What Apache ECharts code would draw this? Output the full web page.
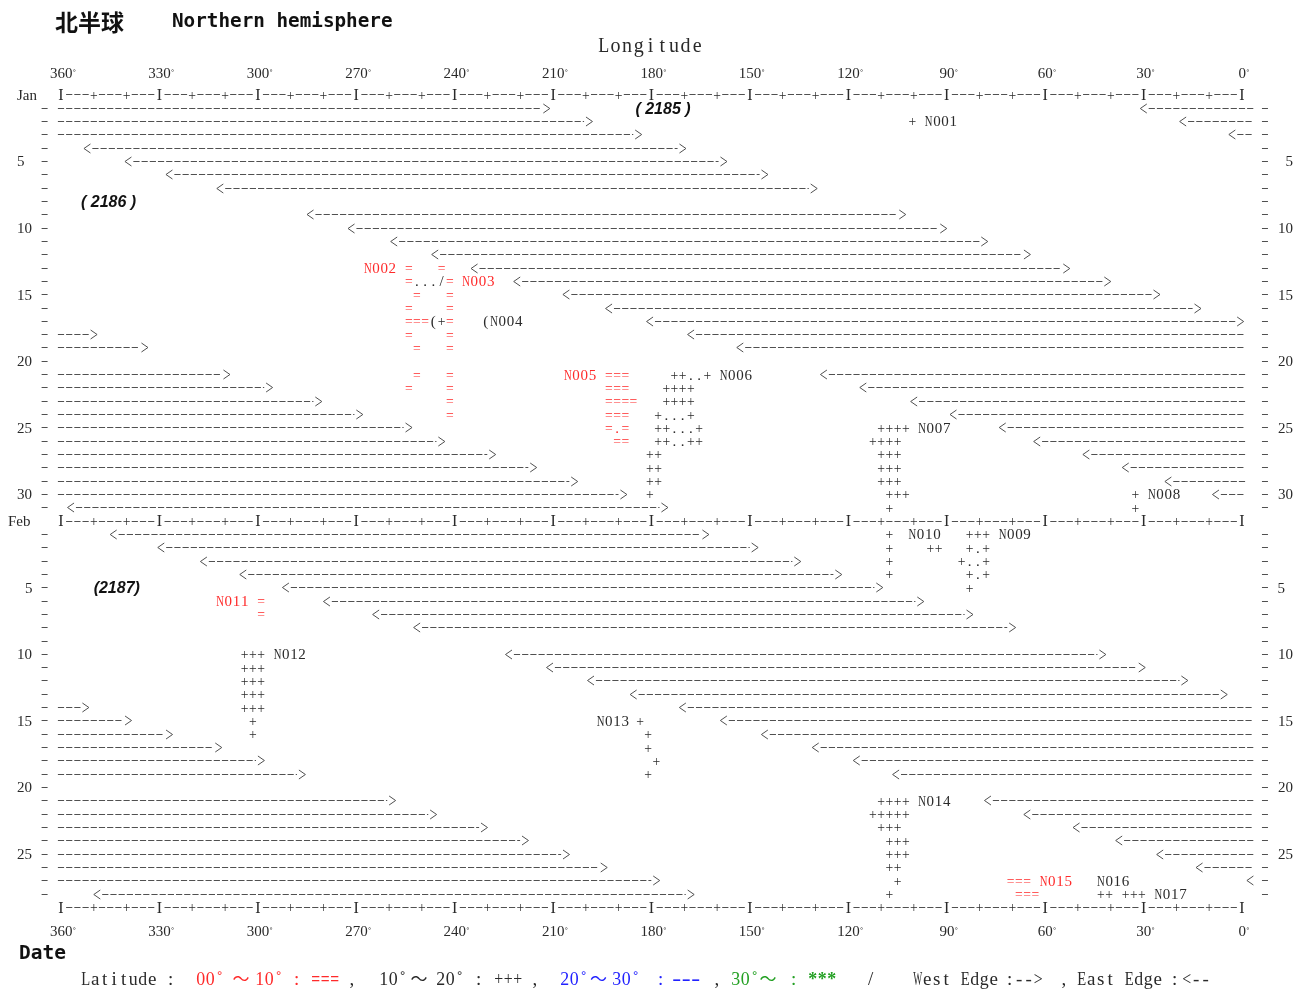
<!DOCTYPE html>
<html>
<head>
<meta charset="utf-8">
<script src="https://cdn.jsdelivr.net/npm/echarts@6/dist/echarts.min.js"></script>
<style>
  html, body { margin: 0; padding: 0; background: #fff; }
  #chart { width: 1303px; height: 990px; }
</style>
</head>
<body>
<div id="chart"></div>
<script>
// ---------------------------------------------------------------
// Data
// ---------------------------------------------------------------
const lonTicks = [360, 330, 300, 270, 240, 210, 180, 150, 120, 90, 60, 30, 0];
const months = ['Jan', 'Feb'];
const monthDays = [31, 28];
const dayTickLabels = [5, 10, 15, 20, 25, 30];

// Daily band edges: [east edge "<" lon, west edge ">" lon, right-end lon when the band wraps past 0°]
// null = no record that day
const janEdges = [
  [30, 212, -2.5], [18, 199, -2.5], [3, 184, -2.5], [352, 170.5], [339.5, 158],
  [327, 145.5], [311.5, 130.5], null, [284, 103.5], [271.5, 91],
  [258.5, 78.5], [246, 65.5], [234, 53.5], [221, 41], [206, 26],
  [193, 13.5], [180.5, 0.5], [168, 350, 0], [153, 334.5, 0], null,
  [127.5, 309.5, 0], [115.5, 296.5, 0], [100, 281.5, 0], [88, 269, 0], [73, 254, 0],
  [62.5, 244, 0], [47.5, 228.5, 0], [35.5, 216, 0], [22.5, 203.5, 0], [8, 188.5, 0],
  [357, 176]
];
const febEdges = [
  [344, 163.5], [329.5, 148.5], [316.5, 135.5], [304.5, 123], [291.5, 110.5],
  [279, 98], [264, 83], [251.5, 70], null, [223.5, 42.5],
  [211, 30.5], [198.5, 17.5], [185.5, 5.5], [170.5, 352.5, -2.5], [158, 339.5, -2.5],
  [145.5, 327, -2.5], [130, 312, -2.5], [117.5, 299, -2.5], [105.5, 286.5, -2.5], null,
  [77.5, 259, -2.5], [65.5, 246.5, -2.5], [50.5, 231, -2.5], [37.5, 218.5, -2.5], [25, 206, -2.5],
  [13, 194.5, -2.5], [-2.5, 178.5, -2.5], [349, 168]
];

// Storm track marks: [month, day, lon of first cell, symbols]
//   "=" 00°~10°N, "+" 10°~20°N, "." path between positions
const trackCells = [
  [0, 2, 100.5, '+'],
  [0, 13, 254, '=   ='],
  [0, 14, 254, '=.../='],
  [0, 15, 251.5, '=   ='],
  [0, 16, 254, '=    ='],
  [0, 17, 254, '===(+='],
  [0, 18, 254, '=    ='],
  [0, 19, 251.5, '=   ='],
  [0, 21, 251.5, '=   ='],
  [0, 22, 254, '=    ='],
  [0, 23, 241.5, '='],
  [0, 24, 241.5, '='],
  [0, 21, 193, '==='],
  [0, 22, 193, '==='],
  [0, 23, 193, '===='],
  [0, 24, 193, '==='],
  [0, 25, 193, '=.='],
  [0, 26, 190.5, '=='],
  [0, 21, 173, '++..+'],
  [0, 22, 175.5, '++++'],
  [0, 23, 175.5, '++++'],
  [0, 24, 178, '+...+'],
  [0, 25, 178, '++...+'],
  [0, 26, 178, '++..++'],
  [0, 27, 180.5, '++'],
  [0, 28, 180.5, '++'],
  [0, 29, 180.5, '++'],
  [0, 30, 180.5, '+'],
  [0, 25, 110, '++++'],
  [0, 26, 112.5, '++++'],
  [0, 27, 110, '+++'],
  [0, 28, 110, '+++'],
  [0, 29, 110, '+++'],
  [0, 30, 107.5, '+++'],
  [0, 31, 107.5, '+'],
  [0, 30, 32.5, '+'],
  [0, 31, 32.5, '+'],
  [1, 1, 107.5, '+'],
  [1, 2, 107.5, '+'],
  [1, 3, 107.5, '+'],
  [1, 4, 107.5, '+'],
  [1, 2, 95, '++'],
  [1, 1, 83, '+++'],
  [1, 2, 83, '+.+'],
  [1, 3, 85.5, '+..+'],
  [1, 4, 83, '+.+'],
  [1, 5, 83, '+'],
  [1, 6, 299, '='],
  [1, 7, 299, '='],
  [1, 10, 304, '+++'],
  [1, 11, 304, '+++'],
  [1, 12, 304, '+++'],
  [1, 13, 304, '+++'],
  [1, 14, 304, '+++'],
  [1, 15, 301.5, '+'],
  [1, 16, 301.5, '+'],
  [1, 15, 183.5, '+'],
  [1, 16, 181, '+'],
  [1, 17, 181, '+'],
  [1, 18, 178.5, '+'],
  [1, 19, 181, '+'],
  [1, 21, 110, '++++'],
  [1, 22, 112.5, '+++++'],
  [1, 23, 110, '+++'],
  [1, 24, 107.5, '+++'],
  [1, 25, 107.5, '+++'],
  [1, 26, 107.5, '++'],
  [1, 27, 105, '+'],
  [1, 28, 107.5, '+'],
  [1, 27, 70.5, '==='],
  [1, 28, 68, '==='],
  [1, 28, 43, '++ +++']
];

// Storm names: [month, day, lon of first letter, name, latitude class (0: 00~10°, 1: 10~20°)]
const trackNames = [
  [0, 2, 95.5, 'N001', 1],
  [0, 13, 266.5, 'N002', 0],
  [0, 14, 236.5, 'N003', 0],
  [0, 17, 230.5, '(N004', 1],
  [0, 21, 205.5, 'N005', 0],
  [0, 21, 158, 'N006', 1],
  [0, 25, 97.5, 'N007', 1],
  [0, 30, 27.5, 'N008', 1],
  [1, 1, 73, 'N009', 1],
  [1, 1, 100.5, 'N010', 1],
  [1, 6, 311.5, 'N011', 0],
  [1, 10, 294, 'N012', 1],
  [1, 15, 195.5, 'N013', 1],
  [1, 21, 97.5, 'N014', 1],
  [1, 27, 60.5, 'N015', 0],
  [1, 27, 43, 'N016', 1],
  [1, 28, 25.5, 'N017', 1]
];

// Cycle years: [month, day, centre lon, text]
const yearNotes = [
  [0, 1, 176.5, '( 2185 )'],
  [0, 8, 345.5, '( 2186 )'],
  [1, 5, 343, '(2187)']
];

// ---------------------------------------------------------------
// Helpers
// ---------------------------------------------------------------
const CELL = 2.5;     // degrees per character cell
const MINOR = 10;     // "+" marks on the longitude rows
const MAJOR = 30;     // "I" marks on the longitude rows

const DARK = '#2a2a2a';
const LINE = '#505050';
const RED = '#ff2a2a';
const BLUE = '#2222ff';
const GREEN = '#23a023';
const SERIF = '"Liberation Serif", "DejaVu Serif", serif';
const MARK_FONT = '15px ' + SERIF;
const AXIS_FONT = '16px ' + SERIF;
const NAME_FONT = '15px ' + SERIF;
const TEXT_DY = 1.5;  // optical centring of glyphs on their row

function rowOf(m, d) { return m === 0 ? d : monthDays[0] + 1 + d; }
const headerRows = months.map((_, m) => rowOf(m, 0));
const lastRow = rowOf(1, monthDays[1] + 1);

const measureCtx = document.createElement('canvas').getContext('2d');
const widthCache = {};
function glyphWidth(ch, font) {
  const key = font + '|' + ch;
  if (!(key in widthCache)) { measureCtx.font = font; widthCache[key] = measureCtx.measureText(ch).width; }
  return widthCache[key];
}
// one character centred in its fixed-pitch cell, narrowed when the glyph is wider than the cell
function glyph(ch, x, y, font, fill, pitch, stretch) {
  const w = glyphWidth(ch, font) || pitch;
  const room = pitch * 0.94;
  const s = stretch ? room / w : Math.min(1, room / w);
  return {
    type: 'text', x: x, y: y + TEXT_DY, scaleX: s, silent: true,
    style: { text: ch, font: font, fill: fill,
      align: 'center', verticalAlign: 'middle', textAlign: 'center', textVerticalAlign: 'middle' }
  };
}
function charRun(str, x0, y, pitch, font, colorAt, stretchChars) {
  const out = [];
  for (let i = 0; i < str.length; i++) {
    const ch = str[i];
    if (ch === ' ') continue;
    out.push(glyph(ch, x0 + i * pitch, y, font, colorAt(i, ch, str), pitch,
      !!(stretchChars && stretchChars.indexOf(ch) >= 0)));
  }
  return out;
}
function symbolColor(i, ch, s) {
  if (ch === '=') return RED;
  if (ch === '.' && s[i - 1] === '=' && s[i + 1] === '=') return RED;
  return DARK;
}
function cellPitch(api, row) {
  return Math.abs(api.coord([CELL, row])[0] - api.coord([0, row])[0]);
}
function hLine(x1, x2, y, dash) {
  const style = { stroke: LINE, lineWidth: 1 };
  if (dash) style.lineDash = dash;
  return { type: 'line', silent: true, shape: { x1: x1, y1: y, x2: x2, y2: y }, style: style };
}

// ---------------------------------------------------------------
// Series data
// ---------------------------------------------------------------
const edgeData = [];
[janEdges, febEdges].forEach((list, m) => list.forEach((e, i) => {
  if (e) edgeData.push([e[0], rowOf(m, i + 1), e[1], e.length > 2 ? e[2] : 0]);
}));
const axisRowData = headerRows.concat([lastRow]).map(r => [0, r]);
const dayRowData = [];
months.forEach((_, m) => { for (let d = 1; d <= monthDays[m]; d++) dayRowData.push([0, rowOf(m, d)]); });
const trackData = trackCells.map(t => [t[2], rowOf(t[0], t[1])]);
const nameData = trackNames.map(t => [t[2], rowOf(t[0], t[1])]);
const noteData = yearNotes.map(t => [t[2], rowOf(t[0], t[1])]);

// ---------------------------------------------------------------
// Render functions
// ---------------------------------------------------------------
function renderAxisRow(params, api) {
  const row = api.value(1);
  const pitch = cellPitch(api, row);
  const y = api.coord([0, row])[1];
  const yl = Math.round(y) + 0.5;
  const kids = [];
  for (let lon = 360; lon >= 0; lon -= CELL) {
    const x = api.coord([lon, row])[0];
    if (lon % MAJOR === 0) kids.push(glyph('I', x, y, AXIS_FONT, DARK, pitch));
    else if (lon % MINOR === 0) kids.push(glyph('+', x, y, MARK_FONT, DARK, pitch));
    else kids.push(hLine(x - (pitch - 2) / 2, x + (pitch - 2) / 2, yl));
  }
  return { type: 'group', children: kids };
}

function renderEdge(params, api) {
  const E = api.value(0), row = api.value(1), W = api.value(2), T = api.value(3);
  const pitch = cellPitch(api, row);
  const y = Math.round(api.coord([0, row])[1]) + 0.5;
  const xOf = lon => api.coord([lon, row])[0];
  const dash = pitch - 2;
  const kids = [];
  const run = (a, b) => { if (b >= a) kids.push(hLine(a - dash / 2, b + dash / 2, y, [dash, 2])); };
  const head = (x, dir) => kids.push({
    type: 'polyline', silent: true,
    shape: { points: [[x + 3.2 * dir, y - 4.5], [x - 3.3 * dir, y], [x + 3.2 * dir, y + 4.5]] },
    style: { stroke: LINE, lineWidth: 1, fill: 'none' }
  });
  const xE = xOf(E), xW = xOf(W);
  if (E >= W) {
    head(xE, 1); run(xE + pitch, xW - pitch); head(xW, -1);
  } else {
    run(xOf(360), xW - pitch); head(xW, -1);
    head(xE, 1); run(xE + pitch, xOf(T));
  }
  return { type: 'group', children: kids };
}

function renderDayTick(params, api) {
  const row = api.value(1);
  const pitch = cellPitch(api, row);
  const y = Math.round(api.coord([0, row])[1]) + 0.5;
  const xl = api.coord([360, row])[0] - 2 * pitch;
  const xr = api.coord([0, row])[0] + 2.8 * pitch;
  return { type: 'group', children: [hLine(xl - 3, xl + 3, y), hLine(xr - 3, xr + 3, y)] };
}

function renderTrack(params, api) {
  const row = api.value(1);
  const pitch = cellPitch(api, row);
  const p = api.coord([api.value(0), row]);
  return { type: 'group', children: charRun(trackCells[params.dataIndex][3], p[0], p[1], pitch, MARK_FONT, symbolColor) };
}

function renderName(params, api) {
  const row = api.value(1);
  const pitch = cellPitch(api, row);
  const p = api.coord([api.value(0), row]);
  const t = trackNames[params.dataIndex];
  const col = t[4] === 0 ? RED : DARK;
  return { type: 'group', children: charRun(t[3], p[0], p[1], pitch, NAME_FONT, () => col) };
}

function renderNote(params, api) {
  const p = api.coord([api.value(0), api.value(1)]);
  return {
    type: 'text', x: p[0], y: p[1] + TEXT_DY, silent: true,
    style: { text: yearNotes[params.dataIndex][3], font: 'italic bold 16px "Liberation Sans", Arial, sans-serif',
      fill: '#111', align: 'center', verticalAlign: 'middle', textAlign: 'center', textVerticalAlign: 'middle' }
  };
}

// ---------------------------------------------------------------
// Axis labels
// ---------------------------------------------------------------
const leftLabels = {}, rightLabels = {};
months.forEach((name, m) => {
  leftLabels[rowOf(m, 0)] = '{h' + m + '|' + name + '}';
  dayTickLabels.filter(d => d <= monthDays[m]).forEach(d => {
    const shifted = m === 1 && d < 10;
    leftLabels[rowOf(m, d)] = (shifted ? '{s|' : '{n|') + d + '}';
    rightLabels[rowOf(m, d)] = (shifted ? '{s|' : '{n|') + d + '}';
  });
});
const yLabelBase = { fontFamily: SERIF, fontSize: 15, color: DARK };

const degRich = {
  n: { fontFamily: SERIF, fontSize: 15, color: DARK, padding: [2, 0, 0, 4] },
  d: { fontFamily: SERIF, fontSize: 11, color: DARK, padding: [2, 0, 0, 0] }
};
function xAxisDef(position, margin) {
  return {
    type: 'value', position: position, min: 0, max: 360, interval: MAJOR, inverse: true, gridIndex: 0,
    axisLine: { show: false }, axisTick: { show: false }, splitLine: { show: false },
    axisLabel: { customValues: lonTicks, margin: margin, formatter: v => '{n|' + v + '}{d|˚}', rich: degRich }
  };
}

// ---------------------------------------------------------------
// Titles and legend
// ---------------------------------------------------------------
function textEl(text, x, y, font, fill, align) {
  return { type: 'text', x: x, y: y, silent: true,
    style: { text: text, font: font, fill: fill, align: align || 'left', verticalAlign: 'middle',
      textAlign: align || 'left', textVerticalAlign: 'middle' } };
}
const furniture = [];
furniture.push(textEl('北半球', 55, 22, 'bold 23px "Noto Sans CJK SC"', '#111'));
furniture.push(textEl('Northern hemisphere', 172, 22, 'bold 19.3px "DejaVu Sans Mono"', '#111'));
furniture.push(textEl('Date', 19, 954, 'bold 19.5px "DejaVu Sans Mono"', '#111'));
charRun('Longitude', 603.7, 45, 11.7, '20px ' + SERIF, () => DARK).forEach(e => furniture.push(e));

const LEG_PITCH = 9.5, LEG_Y = 978.5;
const LEG_FONT = '19px ' + SERIF, LEG_BOLD = 'bold 18px ' + SERIF;
const legendSegs = [
  ['Latitude', 81, DARK], [':', 166, DARK],
  ['00˚', 196, RED], ['～', 241, RED, 'w'], ['10˚', 255, RED], [':', 292, RED], ['===', 311, RED, 'b'],
  [',', 347, DARK],
  ['10˚', 379, DARK], ['～', 419, DARK, 'w'], ['20˚', 436, DARK], [':', 474, DARK], ['+++', 494, DARK],
  [',', 530, DARK],
  ['20˚', 560, BLUE], ['～', 598.5, BLUE, 'w'], ['30˚', 612, BLUE], [':', 656, BLUE], ['---', 672, BLUE, 'b'],
  [',', 712, DARK],
  ['30˚', 731, GREEN], ['～', 768, GREEN, 'w'], [':', 789, GREEN], ['***', 808, GREEN, 'b'],
  ['/', 866, DARK],
  ['West Edge', 913, DARK], [':-->', 1005, DARK], [',', 1059, DARK],
  ['East Edge', 1077, DARK], [':', 1170, DARK], ['<--', 1182, DARK]
];
legendSegs.forEach(s => {
  if (s[3] === 'w') {
    furniture.push(textEl(s[0], s[1], LEG_Y, '17px "Noto Sans CJK SC"', s[2], 'center'));
  } else {
    const font = s[3] === 'b' ? LEG_BOLD : LEG_FONT;
    charRun(s[0], s[1] + LEG_PITCH / 2, LEG_Y, LEG_PITCH, font, () => s[2], s[3] === 'b' ? '-' : null)
      .forEach(e => furniture.push(e));
  }
});

// ---------------------------------------------------------------
// Chart
// ---------------------------------------------------------------
const chart = echarts.init(document.getElementById('chart'));
const customBase = { type: 'custom', coordinateSystem: 'cartesian2d', xAxisIndex: 0, yAxisIndex: 0, silent: true, animation: false };

chart.setOption({
  animation: false,
  backgroundColor: '#ffffff',
  grid: { left: 61, right: 61, top: 94.4, bottom: 83.1, containLabel: false },
  xAxis: [xAxisDef('bottom', 16), xAxisDef('top', 13)],
  yAxis: [
    {
      type: 'value', position: 'left', min: 0, max: lastRow, interval: 1, inverse: true,
      axisLine: { show: false }, axisTick: { show: false }, splitLine: { show: false },
      axisLabel: {
        customValues: Object.keys(leftLabels).map(Number),
        margin: 53, align: 'left',
        formatter: v => leftLabels[v] || '',
        rich: {
          h0: Object.assign({ padding: [3, 0, 0, 9] }, yLabelBase),
          h1: Object.assign({ padding: [3, 0, 0, 0] }, yLabelBase),
          n: Object.assign({ padding: [3, 0, 0, 9] }, yLabelBase),
          s: Object.assign({ padding: [3, 0, 0, 17] }, yLabelBase)
        }
      }
    },
    {
      type: 'value', position: 'right', min: 0, max: lastRow, interval: 1, inverse: true,
      axisLine: { show: false }, axisTick: { show: false }, splitLine: { show: false },
      axisLabel: {
        customValues: Object.keys(rightLabels).map(Number),
        margin: 51, align: 'right',
        formatter: v => rightLabels[v] || '',
        rich: {
          n: Object.assign({ padding: [3, 0, 0, 0] }, yLabelBase),
          s: Object.assign({ padding: [3, 8, 0, 0] }, yLabelBase)
        }
      }
    }
  ],
  series: [
    Object.assign({ name: 'longitude rows', data: axisRowData, renderItem: renderAxisRow }, customBase),
    Object.assign({ name: 'day ticks', data: dayRowData, renderItem: renderDayTick }, customBase),
    Object.assign({ name: 'band edges', data: edgeData, renderItem: renderEdge }, customBase),
    Object.assign({ name: 'tracks', data: trackData, renderItem: renderTrack }, customBase),
    Object.assign({ name: 'names', data: nameData, renderItem: renderName }, customBase),
    Object.assign({ name: 'years', data: noteData, renderItem: renderNote }, customBase)
  ],
  graphic: [{ type: 'group', silent: true, children: furniture }]
});
</script>
</body>
</html>
